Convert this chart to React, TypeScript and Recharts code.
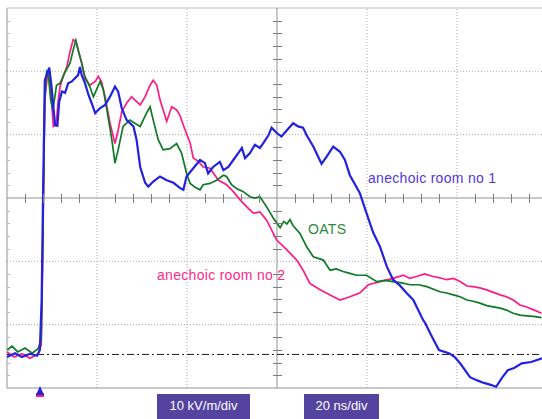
import { LineChart, Line, XAxis, YAxis, ReferenceLine } from 'recharts';

// time in ns (20 ns/div), field in kV/m measured from the bottom graticule line (10 kV/m/div)
const room1: [number, number][] = [
  [0, 4.9], [1.8, 5.5], [3.3, 4.9], [5.1, 5.4], [6.7, 5.1], [7.3, 6.0], [7.7, 13.9], [8.0, 29.7],
  [8.4, 48.6], [9.4, 50.6], [9.9, 47.6], [10.3, 44.4], [10.7, 41.5], [11.2, 41.4], [11.6, 45.2],
  [12.2, 46.8], [12.9, 46.6], [13.6, 48.1], [14.4, 48.4], [15.1, 48.9], [15.8, 49.4], [16.2, 50.7],
  [16.6, 49.4], [17.3, 48.2], [18.1, 46.3], [18.8, 45.0], [19.6, 43.4], [20.7, 44.2], [21.8, 44.7],
  [22.9, 46.0], [24.0, 47.6], [24.7, 46.8], [25.5, 44.2], [26.6, 42.3], [28.1, 41.3], [28.8, 39.2],
  [29.6, 34.9], [30.7, 32.4], [31.4, 31.8], [32.5, 32.6], [34.0, 33.4], [35.5, 32.8], [37.0, 32.4],
  [38.4, 31.6], [39.2, 31.3], [39.9, 33.4], [41.4, 34.7], [42.9, 36.0], [44.0, 35.5], [44.7, 33.9],
  [45.8, 34.9], [47.3, 35.7], [48.1, 34.4], [49.2, 34.9], [50.3, 36.0], [51.4, 37.1], [52.2, 37.9],
  [52.9, 36.3], [54.0, 37.1], [55.1, 38.4], [56.2, 37.9], [57.0, 38.7], [58.1, 39.9], [58.8, 41.1],
  [59.9, 40.3], [61.0, 39.7], [62.2, 40.7], [63.6, 41.8], [64.7, 41.3], [65.8, 41.1], [66.6, 39.9],
  [68.1, 38.1], [69.9, 35.4], [71.0, 36.5], [72.5, 38.1], [74.0, 37.3], [75.1, 36.0], [76.2, 33.6],
  [78.4, 30.8], [79.9, 27.6], [81.4, 24.5], [82.9, 22.3], [84.4, 19.2], [85.8, 17.1], [87.3, 16.2],
  [88.8, 15.0], [90.3, 13.9], [92.5, 10.7], [92.9, 10.3], [94.5, 8.0], [96.0, 6.0], [98.2, 5.5],
  [99.5, 4.9], [100.7, 3.9], [102.9, 1.7], [104.5, 1.2], [106.0, 0.8], [107.5, 0.5], [108.7, 0.2],
  [110.0, 1.6], [111.3, 2.8], [112.8, 3.2], [114.4, 3.9], [116.5, 4.1], [118.9, 4.7],
];

const room2: [number, number][] = [
  [0, 5.7], [1.6, 4.9], [3.3, 5.4], [5.1, 4.7], [6.9, 5.4], [7.6, 6.8], [7.8, 13.9], [8.1, 29.7],
  [8.4, 45.5], [9.0, 49.4], [9.3, 49.9], [9.8, 46.3], [10.3, 41.3], [10.9, 41.5], [11.4, 45.5],
  [11.8, 47.6], [12.5, 49.2], [13.3, 50.7], [14.0, 53.1], [14.7, 55.0], [15.3, 54.7], [15.8, 53.4],
  [16.6, 51.3], [17.3, 48.9], [18.4, 47.8], [19.6, 48.4], [20.3, 49.2], [21.0, 48.4], [21.8, 46.0],
  [22.9, 41.8], [24.0, 38.6], [24.7, 40.7], [25.5, 43.6], [26.6, 45.0], [27.7, 46.0], [28.4, 45.5],
  [29.6, 44.7], [30.7, 46.0], [31.8, 47.8], [32.5, 48.6], [33.3, 47.8], [34.0, 45.5], [35.5, 42.1],
  [36.6, 44.4], [37.7, 43.9], [38.4, 43.1], [39.6, 40.7], [40.7, 38.7], [41.4, 36.3], [42.5, 35.8],
  [43.6, 34.9], [45.1, 34.7], [47.0, 32.8], [48.8, 32.1], [50.3, 31.0], [51.8, 29.7], [53.3, 28.6],
  [54.7, 27.6], [56.2, 27.8], [57.7, 26.5], [59.9, 23.4], [62.2, 21.8], [64.4, 20.2], [65.8, 18.6],
  [67.3, 16.5], [69.6, 15.5], [71.8, 14.7], [74.0, 13.9], [76.2, 14.4], [78.4, 15.0], [80.3, 16.3],
  [82.9, 16.8], [85.8, 17.3], [88.1, 17.8], [89.5, 17.3], [91.0, 17.6], [92.8, 18.0], [94.7, 17.6],
  [96.2, 17.4], [97.7, 17.1], [99.2, 17.3], [100.7, 16.8], [102.2, 16.1], [103.6, 16.0], [105.1, 15.8],
  [106.6, 15.5], [108.1, 15.1], [109.6, 14.7], [111.0, 14.4], [112.5, 13.9], [114.0, 13.1],
  [115.5, 12.8], [117.2, 12.3], [118.8, 11.8],
];

const oats: [number, number][] = [
  [0, 6.0], [1.1, 6.6], [2.4, 5.7], [4.0, 6.3], [5.6, 5.5], [6.9, 6.2], [7.6, 7.6], [7.8, 15.5],
  [8.1, 31.3], [8.4, 45.5], [8.8, 49.9], [9.2, 49.3], [9.7, 45.5], [10.2, 43.9], [10.7, 46.3],
  [11.0, 47.8], [11.8, 48.1], [12.9, 49.9], [14.0, 51.3], [14.9, 53.9], [15.3, 54.9], [15.8, 53.4],
  [16.6, 51.3], [17.3, 49.2], [18.4, 47.6], [19.2, 46.0], [19.9, 47.1], [20.7, 48.4], [21.4, 47.1],
  [22.2, 43.9], [23.3, 39.2], [24.0, 35.5], [24.7, 37.6], [25.8, 41.3], [27.3, 42.3], [28.4, 41.8],
  [29.6, 41.3], [31.0, 43.4], [31.8, 44.4], [32.5, 42.3], [33.6, 39.2], [34.7, 37.6], [36.2, 37.8],
  [37.7, 38.6], [38.8, 37.1], [39.9, 33.9], [40.7, 32.3], [41.8, 31.7], [42.9, 31.3], [43.6, 32.1],
  [45.1, 32.3], [46.6, 32.8], [48.1, 33.6], [48.8, 33.4], [49.9, 32.1], [51.0, 31.5], [52.5, 31.0],
  [54.0, 30.2], [55.1, 30.0], [56.2, 30.2], [57.7, 28.6], [59.2, 26.8], [60.7, 25.3], [61.5, 26.3],
  [62.2, 25.9], [62.9, 26.6], [63.6, 25.6], [65.1, 24.4], [66.6, 22.3], [68.1, 20.7], [70.3, 20.2],
  [71.8, 18.6], [73.2, 18.8], [74.7, 18.4], [76.2, 18.1], [77.7, 17.8], [79.9, 17.8], [82.2, 16.8],
  [84.0, 17.0], [85.8, 16.8], [87.7, 16.6], [89.6, 16.3], [91.5, 16.3], [93.3, 16.0], [94.8, 15.6],
  [96.2, 15.2], [97.7, 15.0], [99.2, 14.7], [100.7, 14.4], [102.2, 13.9], [103.6, 13.7], [105.1, 13.4],
  [106.6, 13.0], [108.1, 12.8], [109.6, 12.6], [111.0, 12.3], [112.5, 11.8], [114.0, 11.5],
  [115.5, 11.4], [117.0, 11.3], [118.8, 11.1],
];

const gridX = [20, 40, 80, 100];
const gridY = [10, 20, 40, 50];
const baseline = 5.3;

const toPoints = (arr: [number, number][]) => arr.map(([t, v]) => ({ t, v }));

// graticule geometry (plot box) used only for the minor tick marks
const PLOT = { left: 7, top: 8, width: 535, height: 380, tMax: 118.9, vMax: 60 };
const px = (t: number) => Math.round(PLOT.left + (t / PLOT.tMax) * PLOT.width);
const py = (v: number) => Math.round(PLOT.top + PLOT.height - (v / PLOT.vMax) * PLOT.height);

const minorX = [4, 8, 12, 16, 24, 28, 32, 36, 44, 48, 52, 56, 64, 68, 72, 76, 84, 88, 92, 96, 104, 108, 112, 116];
const minorY = [2, 4, 6, 8, 12, 14, 16, 18, 22, 24, 26, 28, 32, 34, 36, 38, 42, 44, 46, 48, 52, 54, 56, 58];

const axisGray = '#939393';
const tickGray = '#7c7c7c';

const tick = (left: number, top: number, w: number, h: number, color = tickGray): React.CSSProperties => ({
  position: 'absolute',
  left,
  top,
  width: w,
  height: h,
  background: color,
  zIndex: 3,
});

const boxStyle: React.CSSProperties = {
  position: 'absolute',
  top: 394,
  height: 25,
  background: '#5444a0',
  color: '#fff',
  fontFamily: '"Liberation Sans", Arial, sans-serif',
  fontSize: 13,
  lineHeight: '24px',
  textAlign: 'center',
};
const labelStyle: React.CSSProperties = {
  position: 'absolute',
  fontFamily: '"Liberation Sans", Arial, sans-serif',
  fontSize: 14,
  letterSpacing: 0.3,
  whiteSpace: 'nowrap',
  lineHeight: '16px',
};

export default function App() {
  return (
    <div style={{ position: 'absolute', left: 0, top: 0, width: 542, height: 419, background: '#fff' }}>
      <div style={{ position: 'absolute', left: 0, top: 0 }}>
        <LineChart width={542} height={419} margin={{ top: 8, right: 0, bottom: 31, left: 7 }}>
          <XAxis dataKey="t" type="number" domain={[0, 118.9]} allowDataOverflow hide />
          <YAxis type="number" domain={[0, 60]} allowDataOverflow hide />

          {gridX.map((x) => (
            <ReferenceLine key={'gx' + x} x={x} stroke="#a8a8a8" strokeDasharray="1 2" />
          ))}
          {gridY.map((y) => (
            <ReferenceLine key={'gy' + y} y={y} stroke="#a8a8a8" strokeDasharray="1 2" />
          ))}
          <ReferenceLine x={0} stroke={axisGray} />
          <ReferenceLine y={0} stroke={axisGray} />
          <ReferenceLine y={60} stroke="#bbb" />
          <ReferenceLine x={60} stroke={axisGray} />
          <ReferenceLine y={30} stroke={axisGray} />
          <ReferenceLine y={baseline} stroke="#1a1a1a" strokeDasharray="7 3 2 3" />

          <Line
            data={toPoints(room2)}
            dataKey="v"
            stroke="#ff1a85"
            strokeWidth={1.7}
            dot={false}
            isAnimationActive={false}
          />
          <Line
            data={toPoints(oats)}
            dataKey="v"
            stroke="#0d7a26"
            strokeWidth={1.7}
            dot={false}
            isAnimationActive={false}
          />
          <Line
            data={toPoints(room1)}
            dataKey="v"
            stroke="#2222e0"
            strokeWidth={2.2}
            dot={false}
            isAnimationActive={false}
          />
        </LineChart>
      </div>

      {minorX.map((t) => (
        <div key={'mx' + t} style={tick(px(t), py(30) - 4, 1, 9)} />
      ))}
      {minorY.map((v) => (
        <div key={'my' + v} style={tick(px(60) - 4, py(v), 9, 1)} />
      ))}
      {minorY.map((v) => (
        <div key={'ml' + v} style={tick(px(0), py(v), 3, 1, '#b8b8b8')} />
      ))}

      <div style={{ ...labelStyle, left: 368, top: 170, color: '#5636dc' }}>anechoic room no 1</div>
      <div style={{ ...labelStyle, left: 308, top: 221, color: '#2b8a3c' }}>OATS</div>
      <div style={{ ...labelStyle, left: 157, top: 267, color: '#ff2a8a' }}>anechoic room no 2</div>

      <svg style={{ position: 'absolute', left: 34, top: 385 }} width={12} height={13}>
        <rect x={2} y={8} width={8} height={4} fill="#ff1a85" />
        <polygon points="6,1 10,10 2,10" fill="#2222e0" />
      </svg>

      <div style={{ ...boxStyle, left: 157, width: 93 }}>10 kV/m/div</div>
      <div style={{ ...boxStyle, left: 304, width: 75 }}>20 ns/div</div>
    </div>
  );
}
